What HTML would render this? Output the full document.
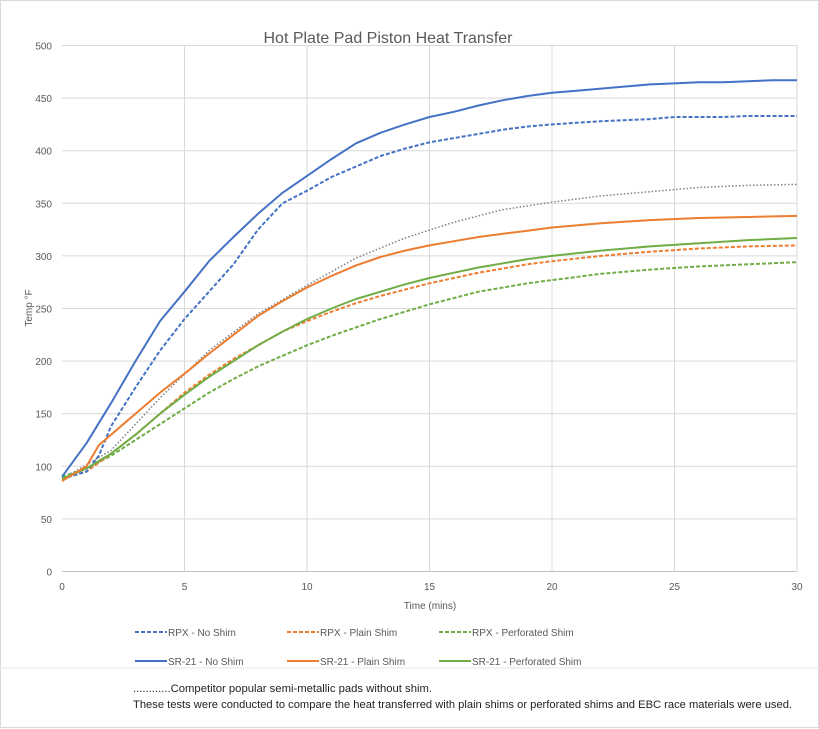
<!DOCTYPE html>
<html><head><meta charset="utf-8"><style>
html,body{margin:0;padding:0;background:#fff;}
svg{display:block;font-family:"Liberation Sans",sans-serif;}
</style></head><body>
<svg id="s" width="819" height="729" viewBox="0 0 819 729" xmlns="http://www.w3.org/2000/svg">
<rect x="0.5" y="0.5" width="818" height="727" fill="#fff" stroke="#d9d9d9"/>
<line x1="0" y1="668" x2="819" y2="668" stroke="#e6e6e6"/>
<g id="grid" stroke="#d9d9d9" stroke-width="1"></g>
<text x="388" y="43" font-size="16" fill="#595959" text-anchor="middle">Hot Plate Pad Piston Heat Transfer</text>
<g id="ylab" font-size="10" fill="#595959" text-anchor="end"></g>
<g id="xlab" font-size="10" fill="#595959" text-anchor="middle"></g>
<text x="430" y="609" font-size="10" fill="#595959" text-anchor="middle">Time (mins)</text>
<text x="32" y="308" font-size="10" fill="#595959" text-anchor="middle" transform="rotate(-90 32 308)">Temp °F</text>
<g id="series" fill="none" stroke-width="2" stroke-linejoin="round"></g>
<g font-size="10" fill="#595959">
<line x1="135" y1="632" x2="167" y2="632" stroke="#4472c4" stroke-width="2" stroke-dasharray="4,2"/><text x="168" y="636">RPX - No Shim</text>
<line x1="287" y1="632" x2="319" y2="632" stroke="#ed7d31" stroke-width="2" stroke-dasharray="4,2"/><text x="320" y="636">RPX - Plain Shim</text>
<line x1="439" y1="632" x2="471" y2="632" stroke="#70ad47" stroke-width="2" stroke-dasharray="4,2"/><text x="472" y="636">RPX - Perforated Shim</text>
<line x1="135" y1="661" x2="167" y2="661" stroke="#4472c4" stroke-width="2"/><text x="168" y="665">SR-21 - No Shim</text>
<line x1="287" y1="661" x2="319" y2="661" stroke="#ed7d31" stroke-width="2"/><text x="320" y="665">SR-21 - Plain Shim</text>
<line x1="439" y1="661" x2="471" y2="661" stroke="#70ad47" stroke-width="2"/><text x="472" y="665">SR-21 - Perforated Shim</text>
</g>
<g font-size="11" fill="#222">
<text x="133" y="692" textLength="299" lengthAdjust="spacingAndGlyphs">............Competitor popular semi-metallic pads without shim.</text>
<text x="133" y="708" textLength="659" lengthAdjust="spacingAndGlyphs">These tests were conducted to  compare the heat transferred with plain shims or perforated shims and EBC race materials were used.</text>
</g>
</svg>
<script>
const NS="http://www.w3.org/2000/svg";
const X=t=>62+t*24.5, Y=v=>571.5-v*1.052;
const g=document.getElementById('grid'),yl=document.getElementById('ylab'),xl=document.getElementById('xlab');
function el(p,n,a,txt){const e=document.createElementNS(NS,n);for(const k in a)e.setAttribute(k,a[k]);if(txt!==undefined)e.textContent=txt;p.appendChild(e);return e;}
for(let v=0;v<=500;v+=50){el(g,'line',{x1:62,x2:797,y1:Y(v),y2:Y(v),stroke:v==0?'#bfbfbf':'#d9d9d9'});el(yl,'text',{x:52,y:Y(v)+4},v);}
for(let t=0;t<=30;t+=5){if(t>0)el(g,'line',{x1:X(t),x2:X(t),y1:Y(500),y2:Y(0)});el(xl,'text',{x:X(t),y:590},t);}
const S=document.getElementById('series');
function ser(d,c,dash,w){const pts=[];for(let i=0;i<d.length;i+=2)pts.push(X(d[i]).toFixed(1)+','+Y(d[i+1]).toFixed(1));const a={points:pts.join(' '),stroke:c};if(dash)a['stroke-dasharray']=dash;if(w)a['stroke-width']=w;el(S,'polyline',a);}
ser([0,88,2,115,4,165,6,210,8,245,10,272,12,298,14,317,16,332,18,344,20,351,22,357,24,361,26,365,28,367,30,368],'#808080','1.5,2',1.5);
ser([0,90,1,98,2,110,3,125,4,140,5,155,6,170,7,183,8,195,9,205,10,215,11,224,12,232,13,240,14,247,15,254,16,260,17,266,18,270,19,274,20,277,22,283,24,287,26,290,28,292,30,294],'#70ad47','4,2');
ser([0,88,1,95,2,112,3,130,4,150,5,170,6,187,7,202,8,215,9,228,10,238,11,247,12,255,13,262,14,268,15,274,16,279,17,284,18,288,19,292,20,295,22,300,24,304,26,307,28,309,30,310],'#ed7d31','4,2');
ser([0,88,1,95,1.5,110,2,138,3,175,4,210,5,240,6,266,7,292,8,325,9,350,10,362,11,375,12,385,13,395,14,402,15,408,16,412,17,416,18,420,19,423,20,425,22,428,24,430,25,432,27,432,28,433,30,433],'#4472c4','4,2');
ser([0,88,1,98,2,112,3,130,4,150,5,168,6,185,7,200,8,215,9,228,10,240,11,250,12,259,13,266,14,273,15,279,16,284,17,289,18,293,19,297,20,300,22,305,24,309,26,312,28,315,30,317],'#70ad47');
ser([0,86,1,100,1.5,120,2,130,3,150,4,170,5,188,6,207,7,225,8,243,9,257,10,270,11,281,12,291,13,299,14,305,15,310,16,314,17,318,18,321,19,324,20,327,22,331,24,334,26,336,28,337,30,338],'#ed7d31');
ser([0,90,1,122,2,160,3,200,4,238,5,266,6,295,7,318,8,340,9,360,10,376,11,392,12,407,13,417,14,425,15,432,16,437,17,443,18,448,19,452,20,455,21,457,22,459,23,461,24,463,25,464,26,465,27,465,28,466,29,467,30,467],'#4472c4');
</script>
</body></html>
